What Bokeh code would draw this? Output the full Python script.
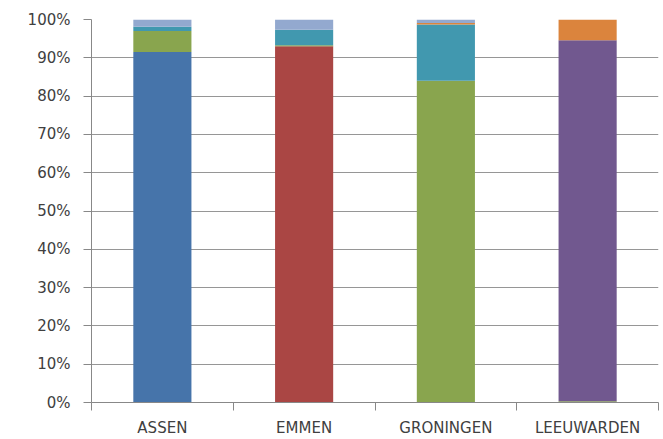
from bokeh.plotting import figure
from bokeh.models import ColumnDataSource, Range1d, FixedTicker, PrintfTickFormatter
from bokeh.embed import file_html
from bokeh.resources import INLINE

categories = ["ASSEN", "EMMEN", "GRONINGEN", "LEEUWARDEN"]
series_names = ["s1", "s2", "s3", "s4", "s5", "s6", "s7"]
s1 = [91.5, 0.0, 0.0, 0.0]     # blue
s2 = [0.0, 93.0, 0.0, 0.0]     # red
s3 = [5.5, 0.3, 84.0, 0.3]     # green
s4 = [0.0, 0.0, 0.0, 94.3]     # purple
s5 = [1.1, 4.0, 14.7, 0.0]     # teal
s6 = [0.0, 0.0, 0.4, 5.4]      # orange
s7 = [1.9, 2.7, 0.9, 0.0]      # light blue
colors = ["#4674AA", "#AA4644", "#89A54E", "#71588F", "#4198AF", "#DB843D", "#93A9CF"]
y_ticks = [0, 10, 20, 30, 40, 50, 60, 70, 80, 90, 100]

xs = [i + 0.5 for i in range(len(categories))]
source = ColumnDataSource(dict(x=xs, s1=s1, s2=s2, s3=s3, s4=s4, s5=s5, s6=s6, s7=s7))

p = figure(width=660, height=439, output_backend="svg", toolbar_location=None,
           x_range=Range1d(0, len(categories)), y_range=Range1d(0, 100),
           min_border_left=91, min_border_right=2, min_border_top=19, min_border_bottom=36)
p.outline_line_color = None
p.background_fill_color = "white"
p.border_fill_color = "white"

p.vbar_stack(series_names, x="x", width=0.41, color=colors, line_color=None, source=source)

font = "DejaVu Sans"
text_color = "#404040"
axis_color = "#888888"

# x axis
xa = p.xaxis[0]
xa.ticker = FixedTicker(ticks=xs, minor_ticks=list(range(len(categories) + 1)))
xa.major_label_overrides = {x: c for x, c in zip(xs, categories)}
xa.major_tick_out = 0
xa.major_tick_in = 0
xa.minor_tick_out = 8
xa.minor_tick_in = 0
xa.minor_tick_line_color = axis_color
xa.axis_line_color = axis_color
xa.major_label_text_font = font
xa.major_label_text_font_size = "15px"
xa.major_label_text_color = text_color
xa.major_label_standoff = 8

# y axis
ya = p.yaxis[0]
ya.ticker = FixedTicker(ticks=y_ticks, minor_ticks=[])
ya.formatter = PrintfTickFormatter(format="%d%%")
ya.major_tick_out = 8
ya.major_tick_in = 0
ya.major_tick_line_color = axis_color
ya.axis_line_color = axis_color
ya.major_label_text_font = font
ya.major_label_text_font_size = "15px"
ya.major_label_text_color = text_color
ya.major_label_standoff = 13

p.xgrid.grid_line_color = None
p.ygrid.grid_line_color = "#969696"
p.ygrid.grid_line_width = 1

open("out.html", "w").write(file_html(p, INLINE))
